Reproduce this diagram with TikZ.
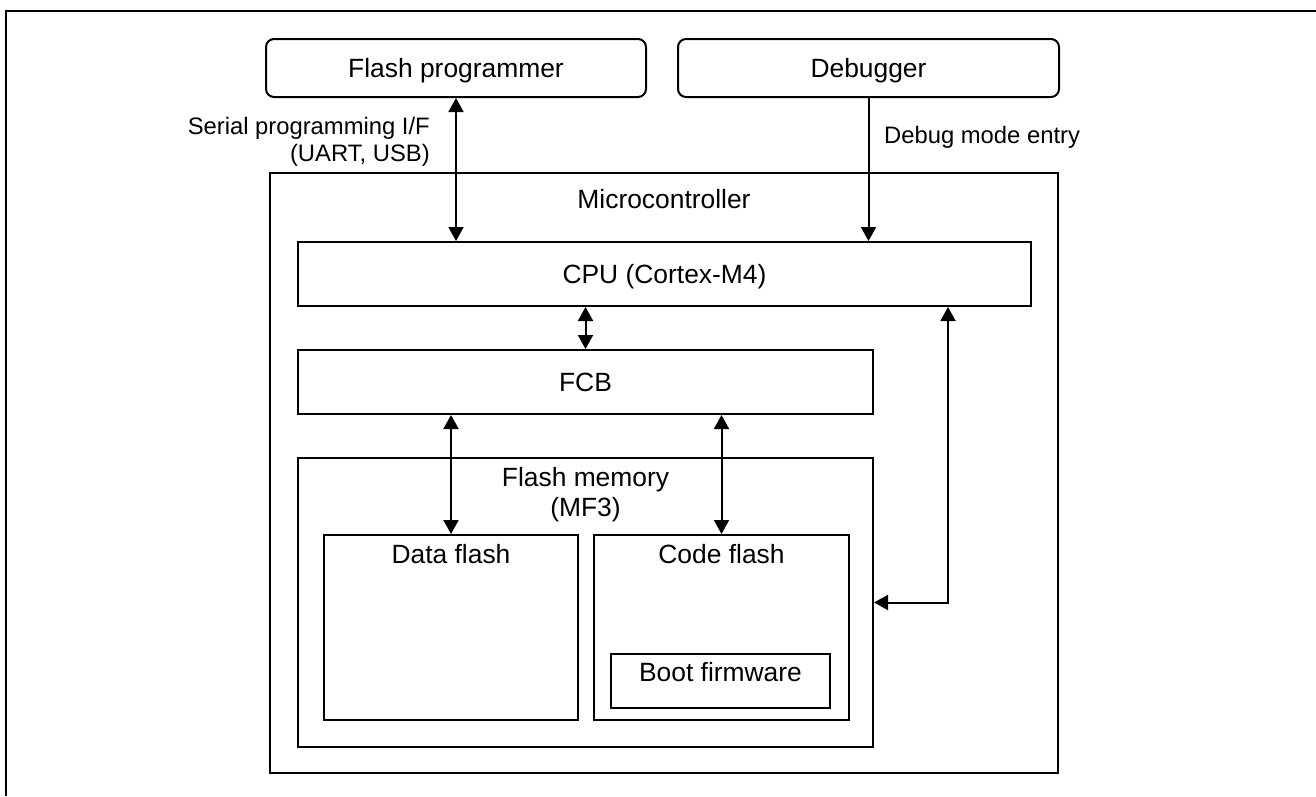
\documentclass[tikz,border=0pt]{standalone}
\usepackage{fontspec}
\setmainfont{Liberation Sans}
\usetikzlibrary{arrows.meta}
\newcommand\mainfs{\fontsize{26.4pt}{30.5pt}\selectfont}
\newcommand\labfs{\fontsize{23.8pt}{27pt}\selectfont}
\begin{document}
\begin{tikzpicture}[x=1pt,y=-1pt,
  box/.style={draw, line width=2pt, inner sep=0pt, font=\mainfs, text height=18.9pt, text depth=0pt},
  rbox/.style={box, rounded corners=8pt},
  lab/.style={inner sep=0pt, font=\mainfs},
  slab/.style={inner sep=0pt, font=\labfs},
  conn/.style={line width=2pt},
  dbl/.style={conn, {Triangle[length=14pt,width=15pt]}-{Triangle[length=14pt,width=15pt]}},
  sgl/.style={conn, -{Triangle[length=14pt,width=15pt]}}]
\fill[white] (0,0) rectangle (1316,796);
\useasboundingbox (0,0) rectangle (1316,796);
% outer frame
\draw[line width=2pt] (6,796) -- (6,11) -- (1316,11);
% boxes
\node[rbox, minimum width=380pt, minimum height=58pt] (fp) at (456,68) {Flash programmer};
\node[rbox, minimum width=381pt, minimum height=58pt] (dbg) at (868.5,68) {Debugger};
\node[box, minimum width=788pt, minimum height=600pt] (mcu) at (664,473) {};
\node[box, minimum width=733pt, minimum height=64pt] (cpu) at (664.5,274) {CPU (Cortex-M4)};
\node[box, minimum width=575pt, minimum height=64pt] (fcb) at (585.5,382) {FCB};
\node[box, minimum width=575pt, minimum height=289pt] (fmem) at (585.5,602.5) {};
\node[box, minimum width=254pt, minimum height=185pt] (dflash) at (451,627.5) {};
\node[box, minimum width=255pt, minimum height=185pt] (cflash) at (721.5,627.5) {};
\node[box, minimum width=219pt, minimum height=54pt] (boot) at (720.5,681) {};
% labels
\node[lab, anchor=base] (mculab) at (664,208) {Microcontroller};
\node[lab, anchor=base] (fmemlab) at (585.5,486) {Flash memory};
\node[lab, anchor=base] (fmemlabb) at (585.5,516) {(MF3)};
\node[lab, anchor=base] (dflab) at (451,563) {Data flash};
\node[lab, anchor=base] (cflab) at (721.5,563) {Code flash};
\node[lab, anchor=base] (bootlab) at (720.5,681) {Boot firmware};
\node[slab, anchor=base east] (sera) at (430,134) {Serial programming I/F};
\node[slab, anchor=base east] (serb) at (430,161) {(UART, USB)};
\node[slab, anchor=base west] (dbglab) at (884,143) {Debug mode entry};
% connectors
\draw[dbl] (fp.south) -- (fp.south |- cpu.north);
\draw[sgl] (dbg.south) -- (dbg.south |- cpu.north);
\draw[dbl] (fcb.north) -- (fcb.north |- cpu.south);
\draw[dbl] (dflash.north) -- (dflash.north |- fcb.south);
\draw[dbl] (cflash.north) -- (cflash.north |- fcb.south);
\coordinate (bend) at (948,602.5);
\draw[dbl] (fmem.east) -- (bend) -- (bend |- cpu.south);
\end{tikzpicture}
\end{document}
